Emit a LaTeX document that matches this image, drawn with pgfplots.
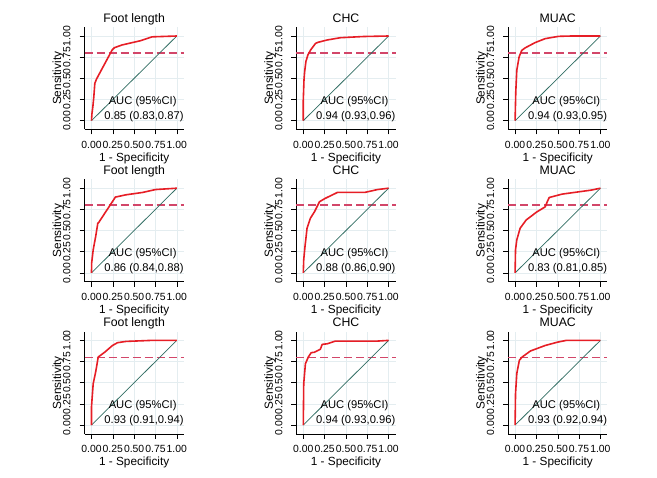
\documentclass[border=0pt]{standalone}
\usepackage{pgfplots}
\usepackage{pgfplotstable}
\pgfplotsset{compat=1.18}
\usepackage{fontspec}
\setmainfont{Liberation Sans}
\definecolor{rocred}{RGB}{230,30,38}
\definecolor{diagc}{RGB}{50,110,100}
\definecolor{refc}{RGB}{210,70,105}
\definecolor{gridc}{RGB}{228,237,240}

\pgfplotstableread{
x y
0 0
0.005 0.08
0.016 0.165
0.027 0.28
0.039 0.44
0.058 0.49
0.242 0.835
0.269 0.862
0.358 0.894
0.573 0.944
0.71 0.99
1 1
}\tA
\pgfplotstableread{
x y
0 0
0 0.245
0.008 0.48
0.016 0.58
0.031 0.70
0.054 0.777
0.086 0.835
0.144 0.913
0.171 0.925
0.28 0.953
0.436 0.98
0.708 0.994
1 1
}\tB
\pgfplotstableread{
x y
0 0
0.008 0.34
0.02 0.596
0.047 0.753
0.078 0.83
0.118 0.86
0.235 0.922
0.353 0.969
0.51 0.996
0.667 1
1 1
}\tC
\pgfplotstableread{
x y
0 0
0.002 0.117
0.02 0.273
0.049 0.43
0.074 0.586
0.084 0.594
0.28 0.895
0.404 0.922
0.6 0.95
0.75 0.984
1 1
}\tD
\pgfplotstableread{
x y
0 0
0.005 0.156
0.02 0.3125
0.044 0.527
0.083 0.645
0.132 0.723
0.19 0.84
0.255 0.879
0.40 0.95
0.72 0.95
0.87 0.984
1 1
}\tE
\pgfplotstableread{
x y
0 0
0.005 0.273
0.02 0.39
0.059 0.527
0.13 0.625
0.255 0.72
0.353 0.78
0.377 0.84
0.40 0.89
0.55 0.93
0.745 0.957
0.89 0.977
1 1
}\tF
\pgfplotstableread{
x y
0 0
0 0.216
0.02 0.49
0.049 0.627
0.079 0.804
0.158 0.863
0.246 0.94
0.305 0.973
0.404 0.988
0.7 1
1 1
}\tG
\pgfplotstableread{
x y
0 0
0.005 0.49
0.025 0.725
0.059 0.804
0.093 0.855
0.13 0.86
0.2 0.895
0.221 0.953
0.28 0.96
0.377 0.992
0.87 0.992
1 1
}\tH
\pgfplotstableread{
x y
0 0
0.005 0.37
0.02 0.61
0.05 0.765
0.083 0.804
0.18 0.875
0.353 0.94
0.5 0.98
0.6 1
1 1
}\tI

\pgfplotsset{
  rocpanel/.style={
    scale only axis, width=99.3pt, height=102.3pt,
    xmin=-0.082, xmax=1.082, ymin=-0.104, ymax=1.104,
    axis x line*=bottom, axis y line*=left,
    axis line style={black, line width=0.5pt},
    xtick={0,0.25,0.5,0.75,1}, ytick={0,0.25,0.5,0.75,1},
    xticklabels={0.00,0.25,0.50,0.75,1.00},
    yticklabels={0.00,0.25,0.50,0.75,1.00},
    tick align=outside, major tick length=5pt,
    tick style={black, line width=0.5pt},
    grid=major, grid style={gridc, line width=0.6pt},
    xticklabel style={font=\fontsize{10.4}{11}\selectfont, anchor=base, yshift=-14pt},
    yticklabel style={font=\fontsize{10.4}{11}\selectfont, xshift=-9pt, rotate=90, anchor=base},
    title style={font=\fontsize{12.3}{13}\selectfont, at={(axis description cs:0.5,0.99)}, anchor=base},
    xlabel style={font=\fontsize{11.8}{13}\selectfont, at={(axis description cs:0.5,-0.313)}, anchor=base},
    ylabel style={font=\fontsize{11.8}{13}\selectfont, at={(axis description cs:-0.2366,0.5)}, rotate=0, anchor=base},
    xlabel={1 - Specificity}, ylabel={Sensitivity},
    clip=false,
  }
}
\newcommand{\panel}[5]{%
\begin{axis}[rocpanel, at={(#1,#2)}, anchor=south west, title={#3}]
\addplot[refc, line width=1.3pt, dash pattern=on 8pt off 4pt] coordinates {(-0.082,0.8) (1.082,0.8)};
\addplot[diagc, line width=0.75pt] coordinates {(0,0) (1,1)};
\addplot[rocred, line width=1.6pt, line join=round] table[x=x,y=y] {#4};
\node[font=\fontsize{11.2}{12}\selectfont] at (axis cs:0.60,0.23) {AUC (95\%CI)};
\node[font=\fontsize{11.2}{12}\selectfont] at (axis cs:0.615,0.05) {#5};
\end{axis}}

\begin{document}
\begin{tikzpicture}
\path[use as bounding box] (0,0) rectangle (657pt,478pt);
\panel{84.5pt}{348.5pt}{Foot length}{\tA}{0.85 (0.83,0.87)}
\panel{296.3pt}{348.5pt}{CHC}{\tB}{0.94 (0.93,0.96)}
\panel{508.1pt}{348.5pt}{MUAC}{\tC}{0.94 (0.93,0.95)}
\panel{84.5pt}{196.3pt}{Foot length}{\tD}{0.86 (0.84,0.88)}
\panel{296.3pt}{196.3pt}{CHC}{\tE}{0.88 (0.86,0.90)}
\panel{508.1pt}{196.3pt}{MUAC}{\tF}{0.83 (0.81,0.85)}
\panel{84.5pt}{44.1pt}{Foot length}{\tG}{0.93 (0.91,0.94)}
\panel{296.3pt}{44.1pt}{CHC}{\tH}{0.94 (0.93,0.96)}
\panel{508.1pt}{44.1pt}{MUAC}{\tI}{0.93 (0.92,0.94)}
\end{tikzpicture}
\end{document}
